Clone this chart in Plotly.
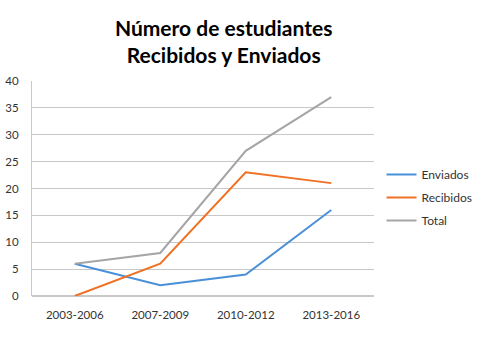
import plotly.graph_objects as go

categories = ["2003-2006", "2007-2009", "2010-2012", "2013-2016"]
enviados = [6, 2, 4, 16]
recibidos = [0, 6, 23, 21]
total = [6, 8, 27, 37]

series = [("Enviados", enviados, "#4A90D9"),
          ("Recibidos", recibidos, "#F07122"),
          ("Total", total, "#A5A5A5")]

fig = go.Figure()
for name, vals, col in series:
    fig.add_trace(go.Scatter(x=categories, y=vals, mode="lines", name=name,
                             legendgroup=name,
                             line=dict(color=col, width=2)))

fig.update_layout(
    width=481, height=342,
    margin=dict(l=32, r=107, t=81, b=46, autoexpand=False),
    paper_bgcolor="white", plot_bgcolor="white",
    font=dict(family="Lato, Carlito, Calibri, sans-serif", size=11.5, color="#333333"),
    title=dict(text="<b>Número de estudiantes<br>Recibidos y Enviados</b>",
               x=0.465, xanchor="center", y=0.895, yanchor="middle",
               font=dict(size=21, color="#000000")),
    showlegend=True,
    legend=dict(x=1.022, y=0.458, xanchor="left", yanchor="middle",
                font=dict(size=12, color="#333333"), itemwidth=30,
                tracegroupgap=4),
    xaxis=dict(type="category", range=[-0.5, 3.5], showgrid=False,
               showline=False, ticks="", ticklabelstandoff=10, automargin=False),
    yaxis=dict(range=[0, 40], dtick=5, showgrid=True, gridcolor="#C8C8C8",
               gridwidth=1, zeroline=True, zerolinecolor="#C8C8C8",
               showline=True, linecolor="#C8C8C8", ticks="",
               ticklabelstandoff=10, automargin=False),
)

fig.write_html("out.html")
